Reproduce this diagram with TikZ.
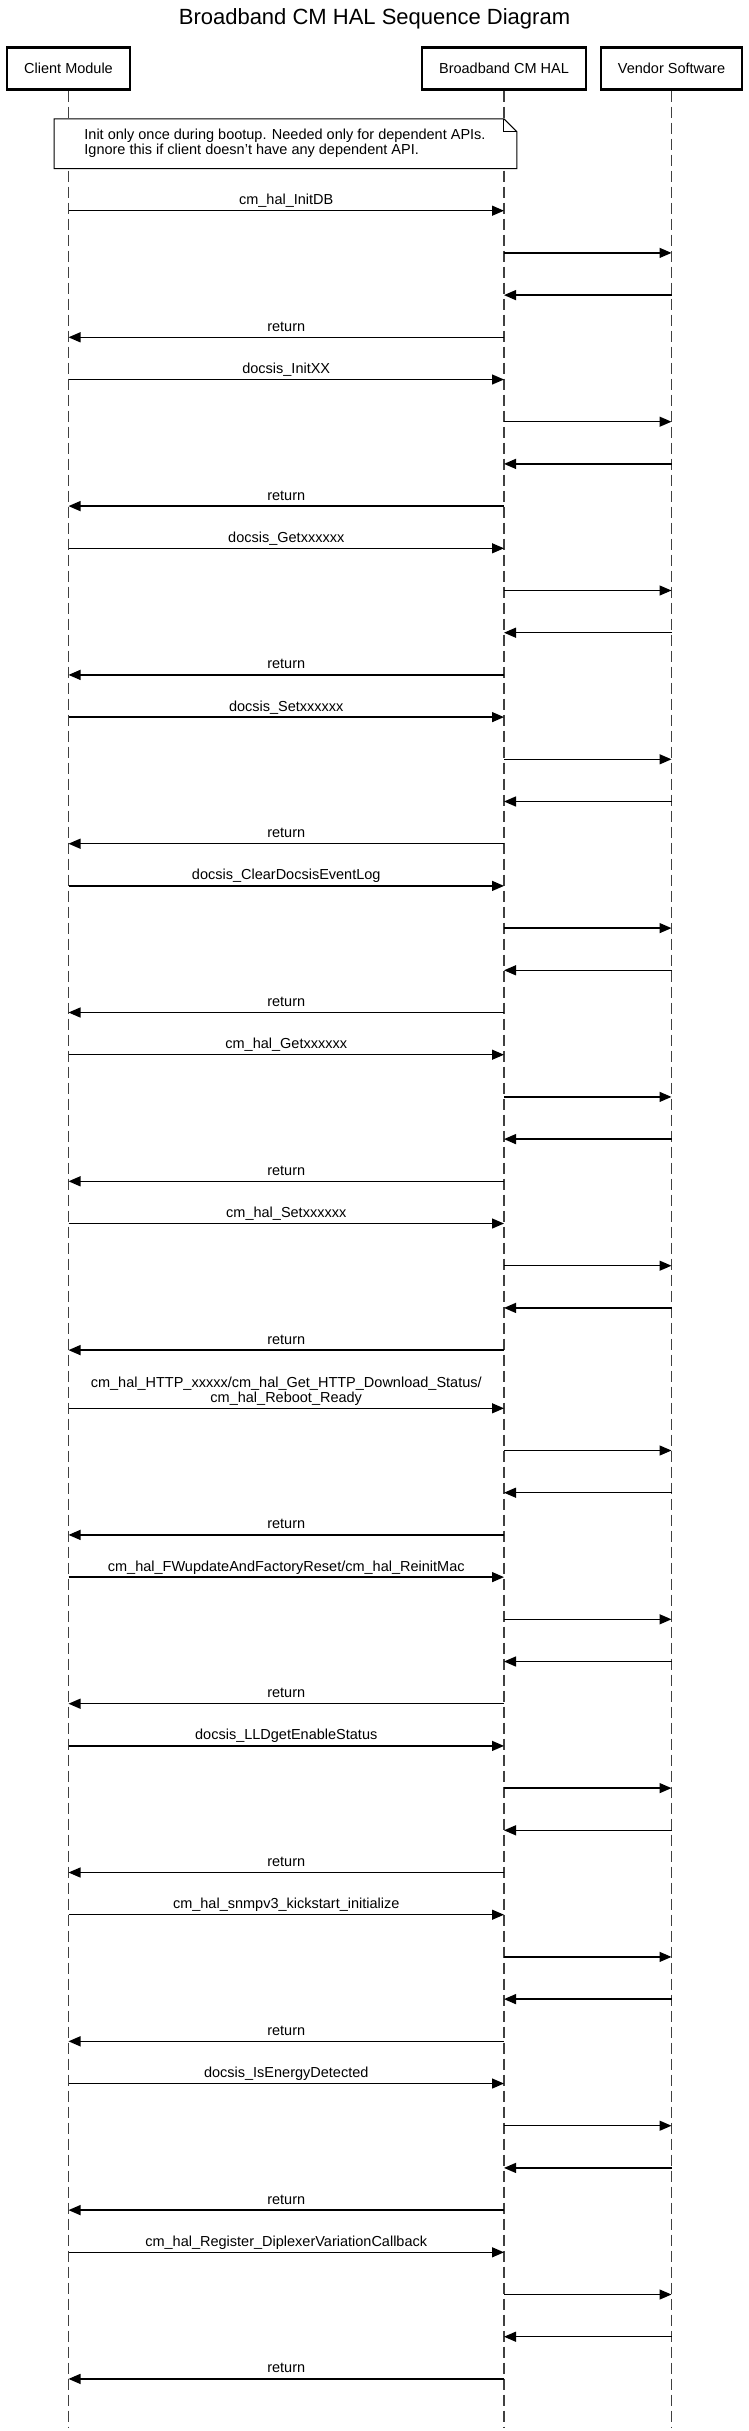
\documentclass[tikz,border=0pt]{standalone}
\usepackage{fontspec}
\setmainfont{Liberation Sans}
\usetikzlibrary{arrows.meta,positioning}

\tikzset{
  actor/.style={draw, line width=2.6pt, minimum height=42pt, inner xsep=17pt,
    font=\fontsize{14.5}{15}\selectfont},
  life/.style={draw=black!75, line width=1.3pt, dash pattern=on 11pt off 5pt},
  call/.style={line width=1.3pt, -{Triangle[length=12pt,width=10pt]}},
  msglabel/.style={anchor=base, yshift=6pt, inner sep=0pt, align=center,
    font=\fontsize{14.5}{15}\selectfont},
}

\begin{document}
\begin{tikzpicture}[x=1pt,y=-1pt]
		\useasboundingbox (0,0) rectangle (749,2431);
		
		\node[anchor=base, font=\fontsize{22}{26}\selectfont] (title) at (374.5,24) {Broadband CM HAL Sequence Diagram};
		
		\node[actor] (client) at (68.5,68.3) {Client Module};
		\node[actor] (hal) at (504,68.3) {Broadband CM HAL};
		\node[actor] (vendor) at (671.5,68.3) {Vendor Software};
		
		% lifelines
		\coordinate (bottom) at (0,2428);
		\foreach \a in {client,hal,vendor} {
		\draw[life] (\a.south) -- (\a.south |- bottom);
		}
		
		% note
		\node[fill=white, minimum width=463.4pt, minimum height=49.3pt, inner sep=0pt, align=left,
		  font=\fontsize{14.5}{15}\selectfont] (note) at (285,143.7)
		  {Init only once during bootup. Needed only for dependent APIs.\\Ignore this if client doesn't have any dependent API.};
		\draw[line width=1pt] ([xshift=1pt]note.north west) -- ([xshift=-13pt]note.north east) -- ([yshift=-13pt]note.north east)
		  -- (note.south east) -- ([xshift=1pt]note.south west) -- cycle;
		\draw[line width=1pt] ([xshift=-13pt]note.north east) -- ([xshift=-13pt,yshift=-13pt]note.north east)
		  -- ([yshift=-13pt]note.north east);
		
		% calls, each one goes to the vendor and back
		\foreach \lbl [count=\i from 0] in {cm\_hal\_InitDB, docsis\_InitXX, docsis\_Getxxxxxx, docsis\_Setxxxxxx,
		  docsis\_ClearDocsisEventLog, cm\_hal\_Getxxxxxx, cm\_hal\_Setxxxxxx,
		  {cm\_hal\_HTTP\_xxxxx/cm\_hal\_Get\_HTTP\_Download\_Status/\\cm\_hal\_Reboot\_Ready},
		  {cm\_hal\_FWupdateAndFactoryReset/cm\_hal\_ReinitMac}, docsis\_LLDgetEnableStatus,
		  cm\_hal\_snmpv3\_kickstart\_initialize, docsis\_IsEnergyDetected,
		  cm\_hal\_Register\_DiplexerVariationCallback} {
		\pgfmathsetmacro\y{210.7+168.8*\i+16*(\i>6)}
		\coordinate (c\i) at (client.south |- 0,\y);
		\coordinate (h\i) at (hal.south |- 0,\y);
		\coordinate (hv\i) at (hal.south |- 0,\y+42.2);
		\coordinate (v\i) at (vendor.south |- 0,\y+42.2);
		\coordinate (vb\i) at (vendor.south |- 0,\y+84.4);
		\coordinate (hb\i) at (hal.south |- 0,\y+84.4);
		\coordinate (hr\i) at (hal.south |- 0,\y+126.6);
		\coordinate (cr\i) at (client.south |- 0,\y+126.6);
		\draw[call] (c\i) -- node[msglabel] {\lbl} (h\i);
		\draw[call] (hv\i) -- (v\i);
		\draw[call] (vb\i) -- (hb\i);
		\draw[call] (hr\i) -- node[msglabel] {return} (cr\i);
		}
	\end{tikzpicture}
\end{document}
